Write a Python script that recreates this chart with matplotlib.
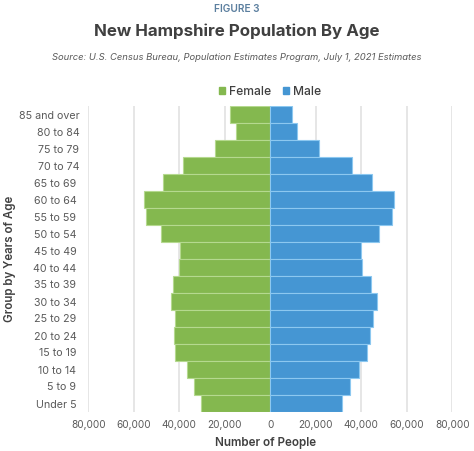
import matplotlib
matplotlib.use('Agg')
import matplotlib.pyplot as plt
import numpy as np
from matplotlib.patches import Patch
from matplotlib.ticker import FuncFormatter

plt.rcParams['font.family'] = ['Inter', 'DejaVu Sans']

# Age groups, top to bottom (some labels carry a trailing space in the original)
age_groups = ['85 and over', '80 to 84', '75 to 79', '70 to 74', '65 to 69 ', '60 to 64 ',
              '55 to 59 ', '50 to 54 ', '45 to 49 ', '40 to 44 ', '35 to 39 ', '30 to 34 ',
              '25 to 29 ', '20 to 24 ', '15 to 19 ', '10 to 14 ', '5 to 9 ', 'Under 5 ']
female = [17500, 15200, 24400, 38300, 47000, 55600, 54700, 48000, 39900,
          40000, 42600, 43700, 41800, 42400, 41800, 36700, 33500, 30400]
male = [9600, 11800, 21200, 35700, 44900, 54400, 53500, 48000, 39700,
        40400, 44300, 46700, 45000, 44000, 42700, 38900, 35100, 31600]
x_ticks = [-80000, -60000, -40000, -20000, 0, 20000, 40000, 60000, 80000]

GREEN = '#84b84f'
BLUE = '#4596d3'
TEXT = '#5a5a5a'
DARK = '#404040'

W, H = 474, 451
fig = plt.figure(figsize=(W / 100, H / 100), dpi=100)
ax = fig.add_axes([88.3 / W, 1 - 412 / H, (452.3 - 88.3) / W, (412 - 106) / H])

y = np.arange(len(age_groups))
ax.barh(y, -np.array(female), height=1.0, color=GREEN, edgecolor='#b5d98f', linewidth=0.8, zorder=3)
ax.barh(y, male, height=1.0, color=BLUE, edgecolor='#8cc8f0', linewidth=0.8, zorder=3)

ax.set_ylim(len(age_groups) - 0.5, -0.5)
ax.set_xlim(-80000, 80000)
ax.set_yticks(y)
ax.set_yticklabels(age_groups)
ax.set_xticks(x_ticks)
ax.xaxis.set_major_formatter(FuncFormatter(lambda v, _: f'{abs(int(v)):,}'))
ax.tick_params(axis='both', length=0, labelcolor=TEXT)
ax.tick_params(axis='x', pad=5.5, labelsize=7.2)
ax.tick_params(axis='y', pad=6.5, labelsize=7.7)
ax.grid(axis='x', color='#e2e2e2', linewidth=1.2, zorder=0)
ax.set_axisbelow(True)
for side in ax.spines:
    ax.spines[side].set_visible(False)

ax.set_xlabel('Number of People', fontsize=8.4, fontweight='semibold', color=DARK)
ax.xaxis.set_label_coords(0.488, -0.082)
fig.text(10 / W, 1 - 259 / H, 'Group by Years of Age', rotation=90, ha='center', va='center',
         fontsize=8.3, fontweight='semibold', color=DARK)

fig.text(237 / W, 1 - 8.5 / H, 'FIGURE 3', ha='center', va='center', fontsize=7.3,
         fontweight='semibold', color='#5b7f9f')
fig.text(237 / W, 1 - 31.5 / H, 'New Hampshire Population By Age', ha='center', va='center',
         fontsize=12.2, fontweight='bold', color=DARK)
fig.text(237 / W, 1 - 58 / H, 'Source: U.S. Census Bureau, Population Estimates Program, July 1, 2021 Estimates',
         ha='center', va='center', fontsize=6.8, style='italic', color=TEXT)

handles = [Patch(color=GREEN, label='Female'), Patch(color=BLUE, label='Male')]
fig.legend(handles=handles, loc='center', bbox_to_anchor=(270 / W, 1 - 92 / H), ncol=2, frameon=False,
           prop={'size': 8.7, 'weight': 'medium'}, labelcolor=DARK, handlelength=0.5, handleheight=0.5,
           handletextpad=0.35, columnspacing=1.0)

fig.savefig('out.png', dpi=100)
